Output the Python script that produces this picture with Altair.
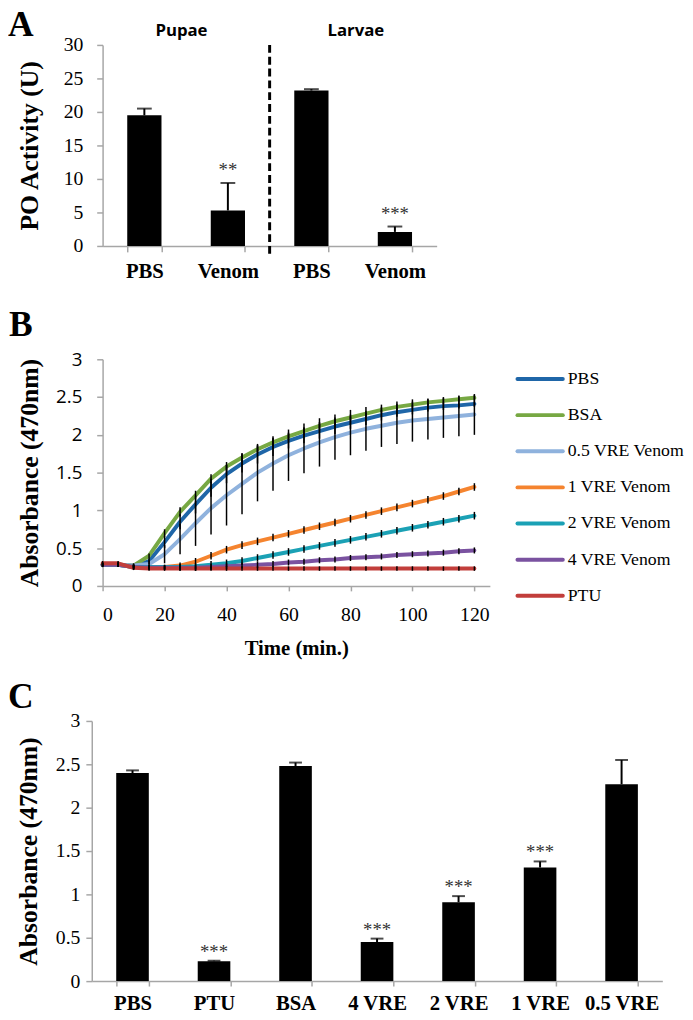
import altair as alt
import pandas as pd

SERIF = "Liberation Serif"
SANS = "Open Sans"
GRAY = "#a6a6a6"

# ---------------- Panel A data ----------------
a_keys = ["Pupae|PBS", "Pupae|Venom", "Larvae|PBS", "Larvae|Venom"]
a_values = [19.5, 5.3, 23.2, 2.1]
a_errors = [1.0, 4.1, 0.2, 0.8]
a_stars = ["", "**", "", "***"]
a_ticks = [0, 5, 10, 15, 20, 25, 30]

# ---------------- Panel B data ----------------
b_time = [0, 5, 10, 15, 20, 25, 30, 35, 40, 45, 50, 55, 60, 65, 70, 75, 80, 85, 90, 95, 100, 105, 110, 115, 120]
b_series = ["PBS", "BSA", "0.5 VRE Venom", "1 VRE Venom", "2 VRE Venom", "4 VRE Venom", "PTU"]
b_colors = ["#1f66a8", "#77a843", "#8fb2dd", "#f5842f", "#1ba1b5", "#7a52a0", "#c23e3b"]
b_pbs = [0.28, 0.28, 0.26, 0.33, 0.58, 0.85, 1.08, 1.30, 1.48, 1.62, 1.74, 1.84, 1.92, 1.99, 2.05, 2.11, 2.16, 2.21, 2.26, 2.30, 2.33, 2.36, 2.38, 2.39, 2.41]
b_bsa = [0.28, 0.28, 0.27, 0.40, 0.70, 0.98, 1.20, 1.42, 1.58, 1.70, 1.81, 1.90, 1.98, 2.05, 2.12, 2.18, 2.23, 2.28, 2.33, 2.37, 2.40, 2.43, 2.45, 2.47, 2.49]
b_v05 = [0.28, 0.28, 0.27, 0.29, 0.42, 0.62, 0.83, 1.03, 1.20, 1.35, 1.50, 1.62, 1.73, 1.82, 1.90, 1.97, 2.03, 2.08, 2.12, 2.16, 2.19, 2.21, 2.23, 2.25, 2.27]
b_v1 = [0.28, 0.28, 0.25, 0.25, 0.25, 0.27, 0.32, 0.40, 0.48, 0.54, 0.59, 0.64, 0.69, 0.74, 0.79, 0.84, 0.89, 0.94, 0.99, 1.04, 1.09, 1.14, 1.19, 1.25, 1.31]
b_v2 = [0.28, 0.28, 0.25, 0.25, 0.25, 0.25, 0.26, 0.28, 0.30, 0.33, 0.37, 0.41, 0.45, 0.49, 0.53, 0.57, 0.61, 0.65, 0.69, 0.73, 0.77, 0.81, 0.85, 0.89, 0.93]
b_v4 = [0.28, 0.28, 0.25, 0.24, 0.24, 0.24, 0.24, 0.25, 0.26, 0.27, 0.28, 0.29, 0.31, 0.32, 0.34, 0.35, 0.37, 0.38, 0.39, 0.41, 0.42, 0.43, 0.44, 0.46, 0.47]
b_ptu = [0.30, 0.30, 0.24, 0.23, 0.23, 0.23, 0.23, 0.23, 0.23, 0.23, 0.23, 0.23, 0.23, 0.23, 0.23, 0.23, 0.23, 0.23, 0.23, 0.23, 0.23, 0.23, 0.23, 0.23, 0.23]
b_err_pbs = [0.02, 0.02, 0.02, 0.04, 0.08, 0.10, 0.12, 0.12, 0.12, 0.12, 0.12, 0.12, 0.10, 0.10, 0.10, 0.10, 0.08, 0.08, 0.07, 0.06, 0.06, 0.05, 0.05, 0.04, 0.04]
b_err_bsa = [0.02, 0.02, 0.02, 0.03, 0.05, 0.06, 0.06, 0.06, 0.06, 0.06, 0.05, 0.05, 0.05, 0.05, 0.05, 0.05, 0.04, 0.04, 0.04, 0.04, 0.04, 0.04, 0.04, 0.04, 0.04]
b_err_v05 = [0.02, 0.02, 0.03, 0.05, 0.12, 0.20, 0.30, 0.35, 0.40, 0.40, 0.38, 0.36, 0.34, 0.33, 0.32, 0.30, 0.30, 0.29, 0.28, 0.28, 0.28, 0.27, 0.27, 0.27, 0.27]
b_err_v1 = [0.03, 0.03, 0.03, 0.03, 0.03, 0.04, 0.05, 0.05, 0.05, 0.05, 0.05, 0.05, 0.05, 0.05, 0.05, 0.05, 0.05, 0.05, 0.05, 0.05, 0.05, 0.05, 0.05, 0.05, 0.05]
b_err_v2 = [0.03, 0.03, 0.03, 0.03, 0.03, 0.04, 0.04, 0.05, 0.05, 0.05, 0.05, 0.05, 0.05, 0.05, 0.05, 0.05, 0.05, 0.05, 0.05, 0.05, 0.05, 0.05, 0.05, 0.05, 0.05]
b_err_v4 = [0.03, 0.03, 0.03, 0.03, 0.03, 0.04, 0.04, 0.04, 0.04, 0.04, 0.04, 0.04, 0.04, 0.04, 0.04, 0.04, 0.04, 0.04, 0.04, 0.04, 0.04, 0.04, 0.04, 0.04, 0.04]
b_err_ptu = [0.03, 0.03, 0.03, 0.03, 0.03, 0.03, 0.03, 0.03, 0.03, 0.03, 0.03, 0.03, 0.03, 0.03, 0.03, 0.03, 0.03, 0.03, 0.03, 0.03, 0.03, 0.03, 0.03, 0.03, 0.03]
b_x_ticks = [0, 20, 40, 60, 80, 100, 120]
b_y_ticks = [0, 0.5, 1, 1.5, 2, 2.5, 3]

# ---------------- Panel C data ----------------
c_cats = ["PBS", "PTU", "BSA", "4 VRE", "2 VRE", "1 VRE", "0.5 VRE"]
c_values = [2.40, 0.23, 2.48, 0.45, 0.91, 1.31, 2.27]
c_errors = [0.03, 0.005, 0.04, 0.04, 0.07, 0.07, 0.28]
c_stars = ["", "***", "", "***", "***", "***", ""]
c_ticks = [0, 0.5, 1, 1.5, 2, 2.5, 3]

one = pd.DataFrame({"k": [0]})


def letter(ch, dx, dy, opacity=1):
    return alt.Chart(one).mark_text(
        text=ch, font=SERIF, fontWeight="bold", fontSize=36, align="left",
        baseline="alphabetic", color="black", opacity=opacity
    ).encode(x=alt.value(dx), y=alt.value(dy))


def y_axis_common(title, title_x, h, label_font, label_size, label_pad, values, fmt=None, offset=0):
    kw = dict(
        values=values, title=title, grid=False,
        titleFont=SERIF, titleFontSize=26, titleFontWeight="bold", titleColor="black",
        titleAngle=270, titleBaseline="bottom", titleAlign="center",
        titleX=title_x, titleY=h / 2,
        labelFont=label_font, labelFontSize=label_size, labelColor="black",
        labelPadding=label_pad, tickSize=6, tickColor=GRAY, tickWidth=1.5,
        domainColor=GRAY, domainWidth=1.5, offset=offset,
    )
    if fmt:
        kw["format"] = fmt
    return alt.Axis(**kw)


# ---------------- Panel A ----------------
W_A, H_A = 339, 204
dfA = pd.DataFrame({"key": a_keys, "value": a_values, "err": a_errors, "star": a_stars})
baseA = alt.Chart(dfA).transform_calculate(top="datum.value + datum.err")
xA_scale = alt.Scale(paddingInner=0.59, paddingOuter=0.295)
xA_axis = alt.Axis(
    title=None, labelExpr="split(datum.label, '|')[1]", labelAngle=0, tickBand="extent",
    labelFont=SERIF, labelFontWeight="bold", labelFontSize=21, labelColor="black",
    labelPadding=9, tickSize=6, tickColor=GRAY, tickWidth=1.5, domainColor=GRAY, domainWidth=1.5,
)
xA = alt.X("key:N", sort=a_keys, scale=xA_scale, axis=xA_axis)
yA_scale = alt.Scale(domain=[0, 30], nice=False)
yA_axis = y_axis_common("PO Activity (U)", -61, H_A, SERIF, 20, 14, a_ticks)

barsA = baseA.mark_bar(color="black").encode(
    x=xA, y=alt.Y("value:Q", scale=yA_scale, axis=yA_axis),
)
errA = baseA.mark_rule(color="black", strokeWidth=2).encode(
    x=xA, y=alt.Y("value:Q", scale=yA_scale, axis=yA_axis), y2="top:Q"
)
capA = baseA.mark_tick(color="black", thickness=2, size=15, orient="horizontal").encode(
    x=xA, y=alt.Y("top:Q", scale=yA_scale, axis=yA_axis)
)
starA = baseA.mark_text(font=SERIF, fontSize=19, color="#333333", baseline="alphabetic", dy=-7).encode(
    x=xA, y=alt.Y("top:Q", scale=yA_scale, axis=yA_axis), text="star:N"
)
dividerA = alt.Chart(one).mark_rule(color="black", strokeWidth=3, strokeDash=[8, 4]).encode(
    x=alt.value(W_A / 2), y=alt.value(0), y2=alt.value(H_A + 8)
)
pupae = alt.Chart(one).mark_text(text="Pupae", font=SANS, fontWeight="bold", fontSize=17,
                                 baseline="middle", color="black").encode(
    x=alt.value(80), y=alt.value(-14))
larvae = alt.Chart(one).mark_text(text="Larvae", font=SANS, fontWeight="bold", fontSize=17,
                                  baseline="middle", color="black").encode(
    x=alt.value(257), y=alt.value(-14))

panelA = alt.layer(barsA, errA, capA, starA, dividerA, pupae, larvae, letter("A", -96, -9)).properties(
    width=W_A, height=H_A)

# ---------------- Panel B ----------------
W_B, H_B = 393, 230
b_vals = [b_pbs, b_bsa, b_v05, b_v1, b_v2, b_v4, b_ptu]
b_errs = [b_err_pbs, b_err_bsa, b_err_v05, b_err_v1, b_err_v2, b_err_v4, b_err_ptu]
rows = []
for s, vals, errs in zip(b_series, b_vals, b_errs):
    for t, v, e in zip(b_time, vals, errs):
        rows.append({"series": s, "time": t, "value": v, "err": e})
dfB = pd.DataFrame(rows)
baseB = alt.Chart(dfB).transform_calculate(lo="datum.value - datum.err", hi="datum.value + datum.err")
xB_scale = alt.Scale(domain=[0, 125], nice=False)
yB_scale = alt.Scale(domain=[0, 3], nice=False)
colorB = alt.Color("series:N", scale=alt.Scale(domain=b_series, range=b_colors), legend=None)
xB_axis = alt.Axis(
    values=b_x_ticks, title="Time (min.)", grid=False,
    titleFont=SERIF, titleFontSize=21, titleFontWeight="bold", titleColor="black", titlePadding=14,
    labelFont=SERIF, labelFontSize=20, labelColor="black", labelPadding=14,
    tickSize=5, tickColor=GRAY, tickWidth=1.5, domainColor=GRAY, domainWidth=1.5)

linesB = baseB.mark_line(strokeWidth=4, strokeJoin="round", strokeCap="round").encode(
    x=alt.X("time:Q", scale=xB_scale, axis=xB_axis),
    y=alt.Y("value:Q", scale=yB_scale,
            axis=y_axis_common("Absorbance (470nm)", -61, H_B, SANS, 19, 15, b_y_ticks, ".1~f")),
    color=colorB,
    detail="series:N",
)
errB = baseB.mark_rule(color="black", strokeWidth=1.5).encode(
    x=alt.X("time:Q", scale=xB_scale, axis=xB_axis),
    y=alt.Y("lo:Q", scale=yB_scale, axis=None),
    y2="hi:Q",
)
legY = alt.Y("series:N", sort=b_series,
             scale=alt.Scale(type="point", domain=b_series, range=[20, 240], padding=0), axis=None)
dfLeg = pd.DataFrame({"series": b_series})
legRule = alt.Chart(dfLeg).mark_rule(strokeWidth=4, strokeCap="round").encode(
    x=alt.value(421), x2=alt.value(467), y=legY, color=colorB)
legText = alt.Chart(dfLeg).mark_text(align="left", baseline="middle", font=SERIF, fontSize=18,
                                     color="black").encode(
    x=alt.value(472), y=legY, text="series:N")

panelB = alt.layer(
    linesB, errB, legRule, legText,
    letter("B", -95, -29, opacity=0),  # invisible spacer that fixes the gap above panel B
    letter("B", -95, -24),
).resolve_scale(y="independent").properties(width=W_B, height=H_B)

# ---------------- Panel C ----------------
C_SHIFT = 11
W_C, H_C = 568, 264
dfC = pd.DataFrame({"cat": c_cats, "value": c_values, "err": c_errors, "star": c_stars})
baseC = alt.Chart(dfC).transform_calculate(top="datum.value + datum.err")
xC_scale = alt.Scale(paddingInner=0.6, paddingOuter=0.3, range=[-C_SHIFT, W_C])
xC_axis = alt.Axis(
    title=None, labelAngle=0, tickBand="extent",
    labelFont=SERIF, labelFontWeight="bold", labelFontSize=21, labelColor="black",
    labelPadding=7, tickSize=5, tickColor=GRAY, tickWidth=1.5, domainColor=GRAY, domainWidth=1.5,
)
xC = alt.X("cat:N", sort=c_cats, scale=xC_scale, axis=xC_axis)
yC_scale = alt.Scale(domain=[0, 3], nice=False)
yC_axis = y_axis_common("Absorbance (470nm)", -51, H_C, SERIF, 20, 6, c_ticks, ".1~f", offset=C_SHIFT)

barsC = baseC.mark_bar(color="black").encode(
    x=xC, y=alt.Y("value:Q", scale=yC_scale, axis=yC_axis),
)
errC = baseC.mark_rule(color="black", strokeWidth=2).encode(
    x=xC, y=alt.Y("value:Q", scale=yC_scale, axis=yC_axis), y2="top:Q"
)
capC = baseC.mark_tick(color="black", thickness=2, size=13, orient="horizontal").encode(
    x=xC, y=alt.Y("top:Q", scale=yC_scale, axis=yC_axis)
)
starC = baseC.mark_text(font=SERIF, fontSize=19, color="#333333", baseline="alphabetic", dy=-3).encode(
    x=xC, y=alt.Y("top:Q", scale=yC_scale, axis=yC_axis), text="star:N"
)
panelC = alt.layer(barsC, errC, capC, starC, letter("C", -96, -13)).properties(width=W_C, height=H_C)

chart = alt.concat(panelA, panelB, panelC, columns=1, spacing=21, align="none").properties(
    padding={"left": 0, "top": -8, "right": 0, "bottom": 0}
).configure_view(stroke=None)

chart.save("out.html", embed_options={"renderer": "svg", "actions": False})
